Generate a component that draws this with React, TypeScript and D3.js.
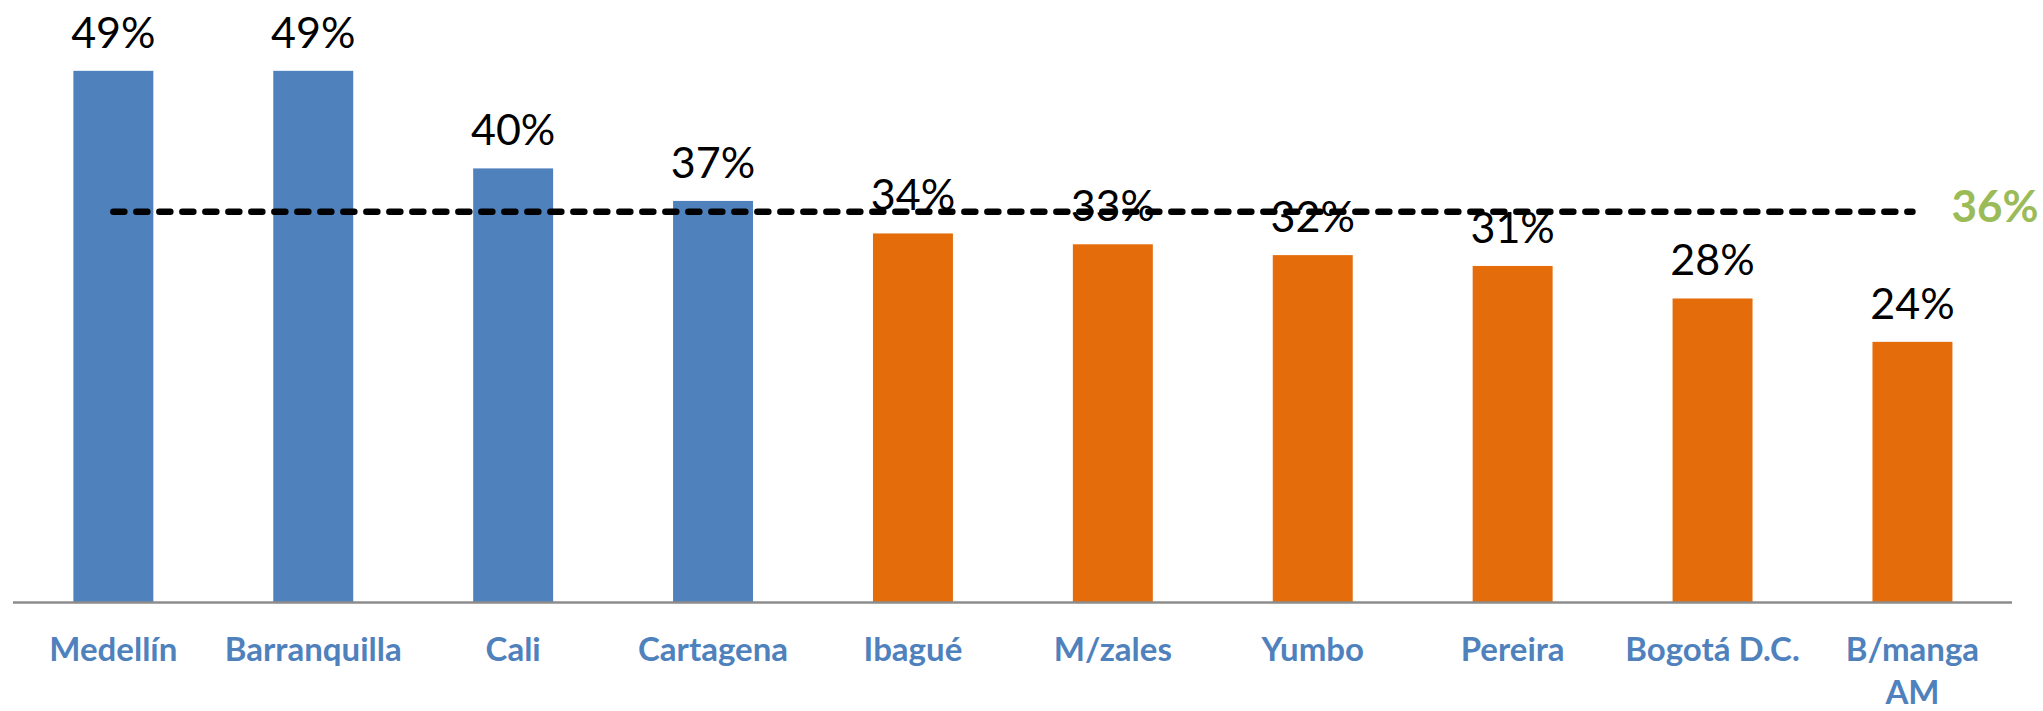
import React from "react";
import * as d3 from "d3";

const categories = ["Medellín", "Barranquilla", "Cali", "Cartagena", "Ibagué", "M/zales", "Yumbo", "Pereira", "Bogotá D.C.", "B/manga AM"];
const values = [0.49, 0.49, 0.40, 0.37, 0.34, 0.33, 0.32, 0.31, 0.28, 0.24];
const groups = ["blue", "blue", "blue", "blue", "orange", "orange", "orange", "orange", "orange", "orange"];
const averageValue = 0.36;
const averageLabel = "36%";

const W = 2043;
const H = 711;
const FONT = "Lato, 'Open Sans', sans-serif";
const colors: Record<string, string> = { blue: "#4F81BD", orange: "#E46C0A" };

export default function App() {
  const x = d3.scaleBand<string>().domain(categories).range([13.4, 2012.4]).paddingInner(0.6).paddingOuter(0.3);
  const y = d3.scaleLinear().domain([0, 0.5]).range([602, 60]);
  const fmt = d3.format(".0%");
  const first = categories[0];
  const last = categories[categories.length - 1];
  const x0 = (x(first) as number) + x.bandwidth() / 2;
  const x1 = (x(last) as number) + x.bandwidth() / 2;

  return (
    <div style={{ position: "absolute", left: 0, top: 0 }}>
      <svg width={W} height={H} style={{ display: "block", background: "#fff" }}>
        {categories.map((c, i) => (
          <rect key={c} x={x(c)} y={y(values[i])} width={x.bandwidth()} height={y(0) - y(values[i])} fill={colors[groups[i]]} />
        ))}
        <line x1={13} x2={2012} y1={y(0) + 0.5} y2={y(0) + 0.5} stroke="#8c8c8c" strokeWidth={2.5} />
        {categories.map((c, i) => (
          <text key={"v" + c} x={(x(c) as number) + x.bandwidth() / 2} y={y(values[i]) - 23} textAnchor="middle" fontFamily={FONT} fontSize={43} fill="#000">
            {fmt(values[i])}
          </text>
        ))}
        {categories.map((c) => {
          const words = c === "B/manga AM" ? ["B/manga", "AM"] : [c];
          return (
            <text key={"c" + c} x={(x(c) as number) + x.bandwidth() / 2} y={661} textAnchor="middle" fontFamily={FONT} fontWeight="bold" fontSize={33} fill="#4F81BD">
              {words.map((w, j) => (
                <tspan key={j} x={(x(c) as number) + x.bandwidth() / 2} dy={j === 0 ? 0 : 43}>{w}</tspan>
              ))}
            </text>
          );
        })}
        <line x1={x0} x2={x1} y1={y(averageValue)} y2={y(averageValue)} stroke="#000" strokeWidth={6.5} strokeDasharray="11 12" strokeLinecap="round" />
        <text x={1995} y={221.7} textAnchor="middle" fontFamily={FONT} fontWeight="bold" fontSize={44} fill="#9BBB59">{averageLabel}</text>
      </svg>
    </div>
  );
}
